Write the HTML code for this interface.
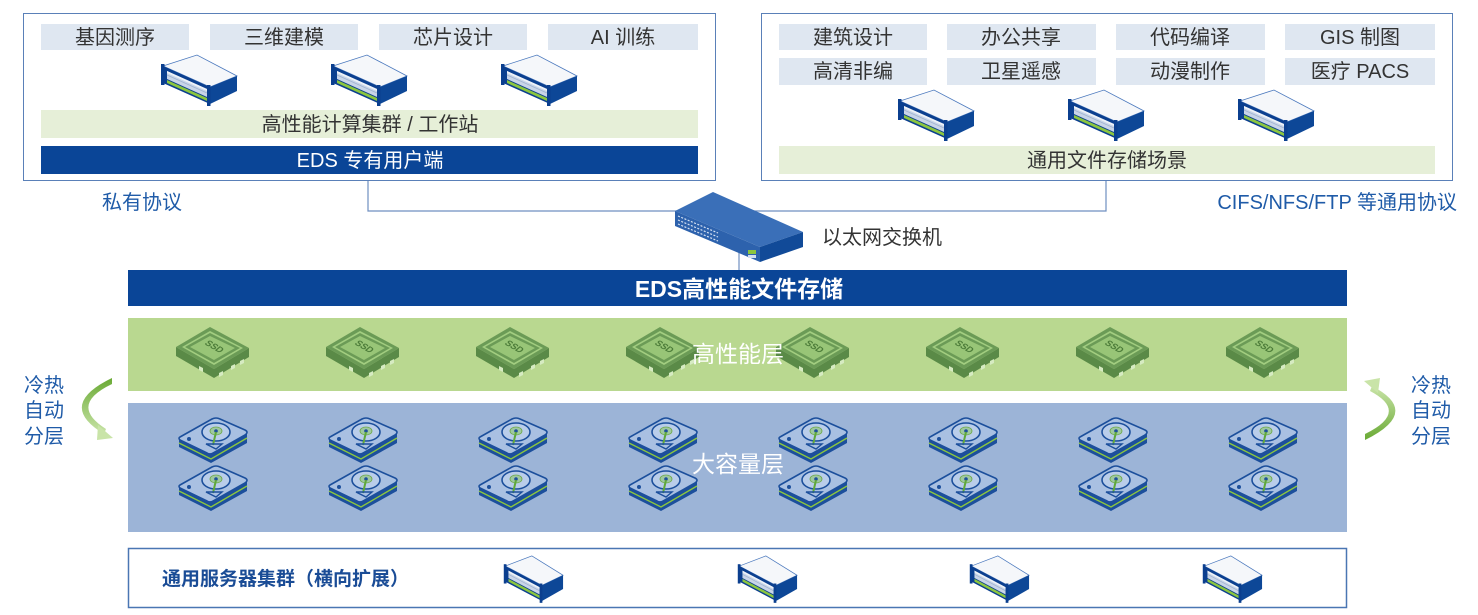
<!DOCTYPE html>
<html>
<head>
<meta charset="utf-8">
<style>
html,body{margin:0;padding:0;background:#fff;}
svg{display:block;}
text{font-family:"Liberation Sans","Noto Sans CJK SC",sans-serif;}
</style>
</head>
<body>
<svg width="1478" height="615" viewBox="0 0 1478 615" xmlns="http://www.w3.org/2000/svg">
<defs>
  <g id="srv">
    <polygon points="3,12 37,1 77,22 50,33" fill="#f5f7fa" stroke="#4a78bd" stroke-width="0.8"/>
    <polygon points="4,13 50,33 50,37 4,17" fill="#d9dee6"/>
    <polygon points="3,12 50,33 50,50 3,29" fill="#0b3f8f"/>
    <polygon points="7,17 47,35 47,43 7,25" fill="#c9d5e8"/>
    <polygon points="7,17 47,35 47,37 7,19" fill="#eef2f8"/>
    <line x1="7" y1="21" x2="47" y2="39" stroke="#9fb2d0" stroke-width="0.8"/>
    <polygon points="7,26 47,44 47,47 7,29" fill="#8cc63f"/>
    <polygon points="50,33 77,22 77,37 50,50" fill="#0d4797"/>
    <rect x="1" y="10" width="3.5" height="21" fill="#0b3f8f"/>
    <rect x="47" y="31" width="3.5" height="21" fill="#0b3f8f"/>
  </g>
  <g id="ssd">
    <polygon points="1,21 39,43 74,22 74,31 39,52 1,30" fill="#5a8a47"/>
    <polygon points="1,21 35,1 74,22 39,43" fill="#6b9b56"/>
    <polygon points="7,21 35,5 68,22 39,39" fill="#a2cd80"/>
    <polygon points="10,21 35,7 65,22 39,37" fill="#6b9b56"/>
    <polygon points="15,21 35,10 60,22 39,34" fill="#98c577"/>
    <text x="0" y="0" font-size="9" font-weight="bold" fill="#4d7d3a" transform="translate(29,18) rotate(30) skewX(-20)">SSD</text>
    <polygon points="44,47 48,45 48,49 44,51" fill="#d6ebc2"/>
    <polygon points="56,40 60,38 60,42 56,44" fill="#d6ebc2"/>
    <polygon points="65,35 69,33 69,37 65,39" fill="#d6ebc2"/>
    <polygon points="24,40 28,42 28,46 24,44" fill="#d6ebc2"/>
  </g>
  <g id="hdd">
    <polygon points="1,22 33,38 69,17 69,27 33,47 1,31" fill="#1c4f9c"/>
    <polyline points="1,27 33,43 69,22" fill="none" stroke="#8cc63f" stroke-width="1.4"/>
    <path d="M2,21 L34,3 Q38,1 42,3 L67,14 Q71,16 67,19 L35,37 Q32,39 29,37 L2,24 Q0,22 2,21 Z" fill="#a9c0e2" stroke="#1c4f9c" stroke-width="1.6"/>
    <ellipse cx="38" cy="16" rx="14" ry="9" fill="#b9cdea" stroke="#1c4f9c" stroke-width="1.6"/>
    <ellipse cx="38" cy="15" rx="6" ry="4" fill="#9fc8a0" stroke="#6da84a" stroke-width="0.8"/>
    <circle cx="38" cy="15" r="1.8" fill="#1c4f9c"/>
    <line x1="38" y1="16" x2="35" y2="29" stroke="#5fa83a" stroke-width="2"/>
    <polygon points="28,28 38,33 44,28" fill="none" stroke="#1c4f9c" stroke-width="1.4"/>
    <circle cx="11" cy="23" r="2" fill="#1c4f9c"/>
  </g>
  <linearGradient id="gl" x1="0" y1="0" x2="0" y2="1">
    <stop offset="0" stop-color="#6aaa35"/>
    <stop offset="1" stop-color="#c9e4a8"/>
  </linearGradient>
  <linearGradient id="gr" x1="0" y1="1" x2="0" y2="0">
    <stop offset="0" stop-color="#6aaa35"/>
    <stop offset="1" stop-color="#c9e4a8"/>
  </linearGradient>
</defs>

<!-- connectors -->
<polyline points="368,181 368,211 1106,211 1106,181" fill="none" stroke="#6f8fc0" stroke-width="1.2"/>
<line x1="739" y1="250" x2="739" y2="270" stroke="#6f8fc0" stroke-width="1.2"/>

<!-- left box -->
<rect x="23.5" y="13.5" width="692" height="167" fill="#fff" stroke="#5a80b8" stroke-width="1"/>
<g fill="#dfe7f1">
  <rect x="41" y="24" width="148" height="26"/>
  <rect x="210" y="24" width="148" height="26"/>
  <rect x="379" y="24" width="148" height="26"/>
  <rect x="548" y="24" width="150" height="26"/>
</g>
<g font-size="20" fill="#333" text-anchor="middle">
  <text x="115" y="44">基因测序</text>
  <text x="284" y="44">三维建模</text>
  <text x="453" y="44">芯片设计</text>
  <text x="623" y="44">AI 训练</text>
</g>
<use href="#srv" x="160" y="54"/>
<use href="#srv" x="330" y="54"/>
<use href="#srv" x="500" y="54"/>
<rect x="41" y="110" width="657" height="28" fill="#e6efd8"/>
<text x="370" y="131" font-size="20" fill="#333" text-anchor="middle">高性能计算集群 / 工作站</text>
<rect x="41" y="146" width="657" height="28" fill="#0a4597"/>
<text x="370" y="167" font-size="20" fill="#fff" text-anchor="middle">EDS 专有用户端</text>
<text x="102" y="209" font-size="20" fill="#1f5ba8">私有协议</text>

<!-- right box -->
<rect x="761.5" y="13.5" width="691" height="167" fill="#fff" stroke="#5a80b8" stroke-width="1"/>
<g fill="#dfe7f1">
  <rect x="779" y="24" width="148" height="26"/>
  <rect x="947" y="24" width="149" height="26"/>
  <rect x="1116" y="24" width="149" height="26"/>
  <rect x="1285" y="24" width="150" height="26"/>
  <rect x="779" y="58" width="148" height="27"/>
  <rect x="947" y="58" width="149" height="27"/>
  <rect x="1116" y="58" width="149" height="27"/>
  <rect x="1285" y="58" width="150" height="27"/>
</g>
<g font-size="20" fill="#333" text-anchor="middle">
  <text x="853" y="44">建筑设计</text>
  <text x="1021" y="44">办公共享</text>
  <text x="1190" y="44">代码编译</text>
  <text x="1360" y="44">GIS 制图</text>
  <text x="853" y="78">高清非编</text>
  <text x="1021" y="78">卫星遥感</text>
  <text x="1190" y="78">动漫制作</text>
  <text x="1360" y="78">医疗 PACS</text>
</g>
<use href="#srv" x="897" y="89"/>
<use href="#srv" x="1067" y="89"/>
<use href="#srv" x="1237" y="89"/>
<rect x="779" y="146" width="656" height="28" fill="#e6efd8"/>
<text x="1107" y="167" font-size="20" fill="#333" text-anchor="middle">通用文件存储场景</text>
<text x="1457" y="209" font-size="20" fill="#1f5ba8" text-anchor="end">CIFS/NFS/FTP 等通用协议</text>

<!-- switch -->
<polygon points="675,211 713,192 803,232 760,247" fill="#3a6fb8"/>
<polygon points="675,211 760,247 760,262 675,226" fill="#2d62ad"/>
<polygon points="760,247 803,232 803,247 760,262" fill="#114a98"/>
<g stroke="#d4e0f2" stroke-width="1.2" stroke-dasharray="2,1.5">
  <line x1="678" y1="216" x2="718" y2="233"/>
  <line x1="678" y1="220" x2="718" y2="237"/>
  <line x1="678" y1="224" x2="718" y2="241"/>
</g>
<rect x="748" y="250" width="8" height="4" fill="#8cc63f"/>
<rect x="748" y="255" width="8" height="3" fill="#d4e0f2"/>
<text x="822" y="244" font-size="20" fill="#333">以太网交换机</text>

<!-- EDS bar -->
<rect x="128" y="270" width="1219" height="36" fill="#0a4597"/>
<text x="739" y="297" font-size="23" font-weight="bold" fill="#fff" text-anchor="middle">EDS高性能文件存储</text>

<!-- high perf layer -->
<rect x="128" y="318" width="1219" height="73" fill="#b9d890"/>
<use href="#ssd" x="175" y="326"/>
<use href="#ssd" x="325" y="326"/>
<use href="#ssd" x="475" y="326"/>
<use href="#ssd" x="625" y="326"/>
<use href="#ssd" x="775" y="326"/>
<use href="#ssd" x="925" y="326"/>
<use href="#ssd" x="1075" y="326"/>
<use href="#ssd" x="1225" y="326"/>
<text x="738" y="362" font-size="23" fill="#fff" text-anchor="middle">高性能层</text>

<!-- capacity layer -->
<rect x="128" y="403" width="1219" height="129" fill="#9cb4d7"/>
<g>
  <use href="#hdd" x="178" y="416"/><use href="#hdd" x="178" y="464"/>
  <use href="#hdd" x="328" y="416"/><use href="#hdd" x="328" y="464"/>
  <use href="#hdd" x="478" y="416"/><use href="#hdd" x="478" y="464"/>
  <use href="#hdd" x="628" y="416"/><use href="#hdd" x="628" y="464"/>
  <use href="#hdd" x="778" y="416"/><use href="#hdd" x="778" y="464"/>
  <use href="#hdd" x="928" y="416"/><use href="#hdd" x="928" y="464"/>
  <use href="#hdd" x="1078" y="416"/><use href="#hdd" x="1078" y="464"/>
  <use href="#hdd" x="1228" y="416"/><use href="#hdd" x="1228" y="464"/>
</g>
<text x="738" y="472" font-size="23" fill="#fff" text-anchor="middle">大容量层</text>

<!-- bottom box -->
<rect x="128.5" y="548.5" width="1218" height="59" fill="#fff" stroke="#4a76b3" stroke-width="1.5"/>
<text x="162" y="585" font-size="19" font-weight="bold" fill="#1a4c96">通用服务器集群（横向扩展）</text>
<use href="#srv" transform="translate(503,555) scale(0.78,0.92)"/>
<use href="#srv" transform="translate(737,555) scale(0.78,0.92)"/>
<use href="#srv" transform="translate(969,555) scale(0.78,0.92)"/>
<use href="#srv" transform="translate(1202,555) scale(0.78,0.92)"/>

<!-- tiering labels -->
<g font-size="20" fill="#1f5ba8">
  <text x="24" y="392">冷热</text>
  <text x="24" y="417">自动</text>
  <text x="24" y="443">分层</text>
  <text x="1411" y="392">冷热</text>
  <text x="1411" y="417">自动</text>
  <text x="1411" y="443">分层</text>
</g>
<!-- left arrow -->
<path d="M112,378 Q56,405 104,434 L106,429 Q68,405 112,384 Z" fill="url(#gl)"/>
<polygon points="98,425 113,438 97,440" fill="#c9e4a8"/>
<!-- right arrow -->
<path d="M1365,440 Q1422,412 1372,386 L1370,391 Q1410,412 1365,434 Z" fill="url(#gr)"/>
<polygon points="1378,393 1364,381 1380,378" fill="#c9e4a8"/>
</svg>
</body>
</html>
